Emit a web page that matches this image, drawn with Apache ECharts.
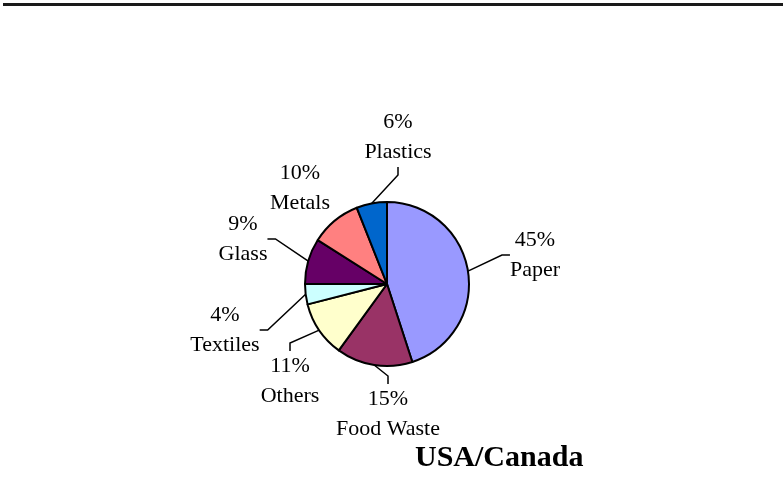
<!DOCTYPE html>
<html>
<head>
<meta charset="utf-8">
<script src="https://cdn.jsdelivr.net/npm/echarts@6/dist/echarts.min.js"></script>
<style>
html,body{margin:0;padding:0;background:#fff;}
#chart{width:783px;height:488px;}
</style>
</head>
<body>
<div id="chart"></div>
<script>
// Data
var categories = ['Paper', 'Food Waste', 'Others', 'Textiles', 'Glass', 'Metals', 'Plastics'];
var values = [45, 15, 11, 4, 9, 10, 6];
var colors = ['#9999FF', '#993366', '#FFFFCC', '#CCFFFF', '#660066', '#FF8080', '#0066CC'];
var showLeader = [true, true, true, true, true, false, true];
var titleText = 'USA/Canada';

// Label placement (layout only)
var labelPos = [[535, 255], [388, 414], [290, 381], [225, 330], [243, 239], [300, 188], [398, 137]];

var chart = echarts.init(document.getElementById('chart'), null, {renderer: 'canvas'});

var seriesData = categories.map(function (c, i) {
  return {name: c, value: values[i], itemStyle: {color: colors[i]}, labelLine: {show: showLeader[i]}};
});

chart.setOption({
  animation: false,
  backgroundColor: '#fff',
  title: {
    text: titleText,
    left: 415,
    top: 443,
    padding: 0,
    textStyle: {fontFamily: 'Liberation Serif', fontWeight: 'bold', fontSize: 30, color: '#000'}
  },
  graphic: [
    {type: 'rect', shape: {x: 3, y: 3, width: 780, height: 3}, style: {fill: '#1a1a1a'}, silent: true}
  ],
  series: [{
    type: 'pie',
    center: [387, 284],
    radius: 82,
    startAngle: 90,
    clockwise: true,
    avoidLabelOverlap: false,
    itemStyle: {borderColor: '#000', borderWidth: 2},
    label: {
      show: true,
      position: 'outside',
      formatter: '{c}%\n{b}',
      fontFamily: 'Liberation Serif',
      fontSize: 22,
      lineHeight: 30,
      color: '#000',
      align: 'center'
    },
    labelLine: {show: true, length: 10, length2: 8, lineStyle: {color: '#000', width: 1.5}},
    labelLayout: function (params) {
      var p = labelPos[params.dataIndex];
      return {x: p[0], y: p[1], align: 'center', verticalAlign: 'middle'};
    },
    emphasis: {disabled: true},
    data: seriesData
  }]
});
</script>
</body>
</html>
